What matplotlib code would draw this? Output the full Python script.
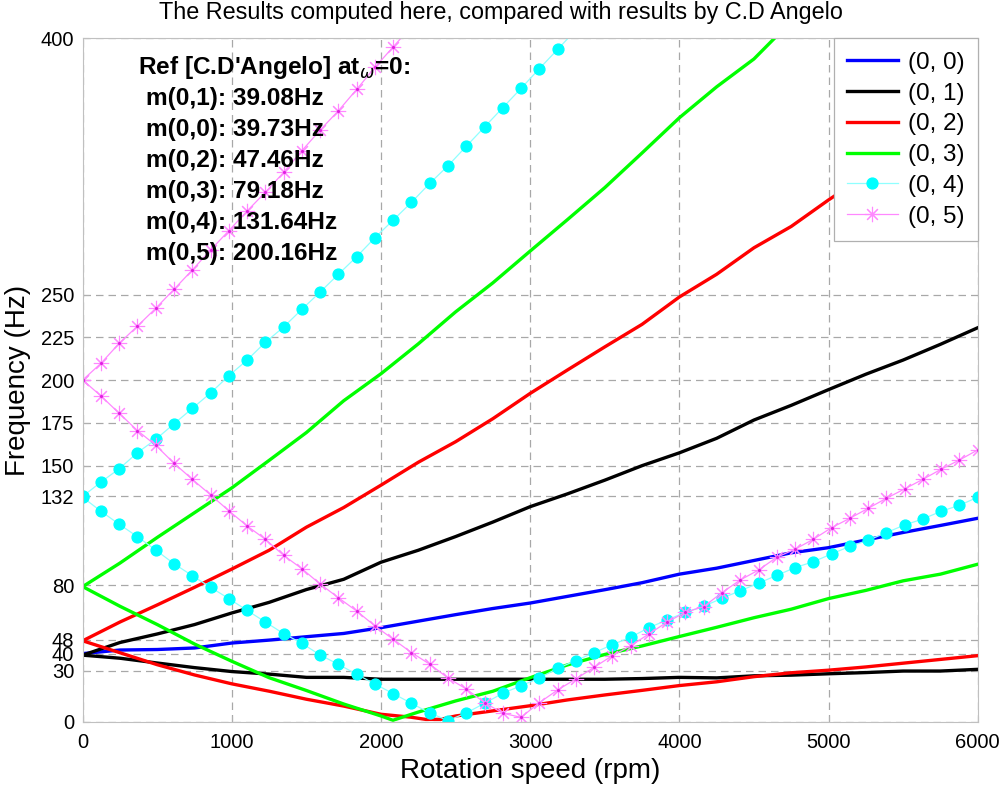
import matplotlib
matplotlib.use("Agg")
import matplotlib.pyplot as plt
import numpy as np

plt.rcParams['font.family'] = ['Liberation Sans', 'DejaVu Sans']

# ---- data -------------------------------------------------------------
rpm_grid = [0, 250, 500, 750, 1000, 1250, 1500, 1750, 2000, 2250, 2500, 2750,
            3000, 3250, 3500, 3750, 4000, 4250, 4500, 4750, 5000, 5250, 5500,
            5750, 6000]

m00 = [40.0, 42.1, 42.4, 43.3, 46.2, 47.9, 49.9, 51.8, 55.2, 59.0, 62.8, 66.4,
       69.6, 73.5, 77.4, 81.5, 86.5, 90.0, 94.5, 99.0, 102.0, 106.5, 110.9,
       115.0, 119.2]

m01_up = [39.1, 46.5, 51.5, 57.0, 63.8, 70.0, 77.5, 83.5, 93.5, 100.5, 108.5,
          117.0, 126.0, 133.5, 141.5, 150.0, 157.5, 166.0, 176.7, 185.3, 194.5,
          203.5, 211.8, 221.0, 230.7]
m01_lo = [39.1, 37.3, 34.5, 31.8, 29.5, 28.0, 26.1, 26.1, 25.0, 25.0, 25.0, 25.0,
          25.0, 25.0, 25.0, 25.4, 26.1, 25.8, 27.0, 27.4, 28.2, 28.9, 29.8, 29.8,
          30.8]

m02_up = [47.5, 58.5, 68.5, 78.8, 89.5, 100.5, 114.0, 125.5, 138.6, 152.0, 164.0,
          177.5, 192.3, 206.0, 219.5, 232.7, 248.7, 262.0, 277.5, 290.0, 305.5,
          320.0, 334.0, 348.0, 362.0]
m02_lo_rpm = [0, 250, 500, 750, 1000, 1250, 1500, 1750, 2000, 2200, 2300, 2400,
              2500, 2750, 3000, 3250, 3500, 3750, 4000, 4250, 4500, 4750, 5000,
              5250, 5500, 5750, 6000]
m02_lo = [47.5, 40.5, 33.5, 27.5, 22.3, 18.0, 13.3, 9.3, 4.5, 2.8, 1.5, 1.5, 3.5,
          6.5, 9.5, 12.9, 15.8, 18.5, 21.3, 23.5, 26.5, 28.8, 30.3, 32.2, 34.4,
          36.6, 38.8]

m03_up_rpm = [0, 250, 500, 750, 1000, 1250, 1500, 1750, 2000, 2250, 2500, 2750,
              3000, 3250, 3500, 3750, 4000, 4250, 4500, 4750]
m03_up = [79.2, 93.0, 108.0, 122.5, 137.0, 153.1, 169.4, 188.0, 203.8, 221.3,
          240.0, 257.0, 275.6, 294.0, 312.7, 333.0, 353.6, 371.7, 388.0, 410.0]
m03_lo_rpm = [0, 250, 500, 750, 1000, 1250, 1500, 1750, 2000, 2080, 2250, 2500,
              2750, 3000, 3250, 3500, 3750, 4000, 4250, 4500, 4750, 5000, 5250,
              5500, 5750, 6000]
m03_lo = [79.2, 67.7, 57.0, 45.6, 35.5, 25.9, 18.4, 10.5, 3.5, 1.0, 5.8, 12.3,
          18.0, 25.9, 33.4, 39.5, 44.5, 50.0, 55.4, 61.0, 66.0, 72.2, 77.0, 82.6,
          86.5, 92.3]

# (0,4) and (0,5): 50 samples from 0 to 6000 rpm
rpm_fine = list(np.linspace(0, 6000, 50))

m04_up = [132.0, 140.4, 148.2, 157.6, 165.4, 174.5, 183.5, 192.5, 202.6, 211.8,
          222.2, 231.1, 241.5, 251.6, 262.0, 272.3, 283.4, 293.7, 304.1, 315.2,
          325.5, 336.9, 348.2, 359.5, 370.8, 382.3, 393.6, 405.0, 416.5]
m04_lo = [131.5, 123.3, 115.7, 108.4, 100.6, 92.6, 85.6, 78.8, 72.2, 65.3,
          58.5, 51.7, 46.0, 39.2, 33.7, 27.9, 22.2, 16.6, 10.9, 5.3,
          0.8, 5.3, 10.9, 16.8, 21.2, 25.7, 31.4, 35.9, 40.6, 45.2,
          49.6, 55.2, 59.7, 64.2, 67.7, 72.4, 76.8, 81.2, 85.8, 90.3,
          93.8, 98.3, 102.8, 106.3, 110.8, 115.3, 118.8, 123.3, 126.8, 131.5]

m05_up = [200.1, 209.9, 221.6, 231.7, 242.1, 253.2, 264.5, 276.2, 287.5, 299.0,
          310.0, 321.6, 334.3, 346.4, 357.7, 370.2, 383.1, 395.1, 407.0, 419.0]
m05_lo = [200.1, 190.8, 180.6, 170.5, 161.9, 151.4, 142.0, 132.9, 123.6, 114.7,
          106.9, 97.5, 89.7, 80.7, 72.7, 64.9, 56.2, 48.4, 40.6, 33.8,
          25.7, 19.3, 11.3, 5.1, 2.7, 11.3, 18.7, 25.2, 32.0, 38.8,
          44.6, 51.5, 58.5, 64.2, 67.5, 75.7, 83.1, 88.9, 96.4, 101.1,
          106.9, 113.7, 119.2, 125.0, 130.9, 136.4, 142.0, 147.9, 153.3, 159.2]

x_ticks = [0, 1000, 2000, 3000, 4000, 5000, 6000]
y_ticks = [0, 30, 40, 48, 80, 132, 150, 175, 200, 225, 250, 400]

title = "The Results computed here, compared with results by C.D Angelo"
ref_lines = ["m(0,1): 39.08Hz", "m(0,0): 39.73Hz", "m(0,2): 47.46Hz",
             "m(0,3): 79.18Hz", "m(0,4): 131.64Hz", "m(0,5): 200.16Hz"]

# ---- plot -------------------------------------------------------------
fig = plt.figure(figsize=(10, 7.85), dpi=100)
ax = fig.add_axes([0.0827, 0.0803, 0.895, 0.8707])

lw = 2.4
l0, = ax.plot(rpm_grid, m00, color='#0000ff', lw=lw, label='(0, 0)')
l1, = ax.plot(rpm_grid, m01_up, color='black', lw=lw, label='(0, 1)')
ax.plot(rpm_grid, m01_lo, color='black', lw=lw)
l2, = ax.plot(rpm_grid, m02_up, color='#ff0000', lw=lw, label='(0, 2)')
ax.plot(m02_lo_rpm, m02_lo, color='#ff0000', lw=lw)
l3, = ax.plot(m03_up_rpm, m03_up, color='#00ff00', lw=lw, label='(0, 3)')
ax.plot(m03_lo_rpm, m03_lo, color='#00ff00', lw=lw)

cy = dict(color='#8fffff', lw=0.9, marker='o', markersize=7.8,
          markerfacecolor='#00ffff', markeredgecolor='#00ffff')
l4, = ax.plot(rpm_fine[:len(m04_up)], m04_up, label='(0, 4)', **cy)
ax.plot(rpm_fine, m04_lo, **cy)

mg = dict(color='#ff88ff', lw=0.9, marker=(8, 2, 0), markersize=11,
          markeredgewidth=0.8, markeredgecolor='#ff88ff')
l5, = ax.plot(rpm_fine[:len(m05_up)], m05_up, label='(0, 5)', **mg)
ax.plot(rpm_fine, m05_lo, **mg)
# small center dots on magenta markers
ax.plot(rpm_fine[:len(m05_up)], m05_up, ls='none', marker='.', markersize=2.5,
        color='#e020e0')
ax.plot(rpm_fine, m05_lo, ls='none', marker='.', markersize=2.5, color='#e020e0')

ax.set_xlim(0, 6000)
ax.set_ylim(0, 400)
ax.set_xticks(x_ticks)
ax.set_yticks(y_ticks)
ax.tick_params(labelsize=14.5, direction='in', length=4, color='#b0b0b0')
ax.tick_params(axis='x', pad=8)
ax.tick_params(axis='y', pad=6)
ax.grid(True, color='#a8a8a8', ls=(0, (6, 4)), lw=0.9)
for s in ax.spines.values():
    s.set_color('#c0c0c0')

ax.set_xlabel("Rotation speed (rpm)", fontsize=20)
ax.set_ylabel("Frequency (Hz)", fontsize=20)
ax.xaxis.set_label_coords(0.5, -0.052)
ax.yaxis.set_label_coords(-0.058, 0.5)

fig.text(0.501, 0.976, title, fontsize=16.8, ha='center', va='baseline')

ax.text(0.0618, 0.957, "Ref [C.D'Angelo] at$_{\\omega}$=0:", transform=ax.transAxes,
        fontsize=17.6, fontweight='bold', va='center', ha='left')
for i, t in enumerate(ref_lines):
    ax.text(0.0705, 0.9115 - i * 0.0451, t, transform=ax.transAxes,
            fontsize=17.6, fontweight='bold', va='center', ha='left')

leg = ax.legend(handles=[l0, l1, l2, l3, l4, l5], loc='upper right',
                fontsize=17.5, frameon=True, fancybox=False, framealpha=1,
                edgecolor='#b0b0b0', borderaxespad=0, handlelength=2.1,
                labelspacing=0.36, borderpad=0.55, handletextpad=0.4)
leg.get_frame().set_linewidth(0.9)

fig.savefig("out.png", dpi=100)
